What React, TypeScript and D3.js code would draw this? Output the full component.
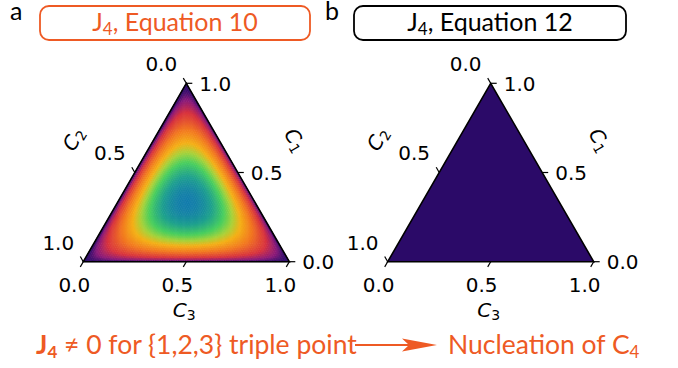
import React from "react";
import * as d3 from "d3";

const ticks = [0, 0.5, 1.0];
const tickLabels = ["0.0", "0.5", "1.0"];
const panelTitles = ["Equation 10", "Equation 12"];
const panelLetters = ["a", "b"];
const cmapStops = [0, 0.05, 0.15, 0.33, 0.5, 0.62, 0.74, 0.88, 1];
const cmapColors = ["#2a0b6a", "#8a1a7a", "#d8323e", "#f27620", "#f5b016", "#a8d23a", "#48cf5e", "#1ea08e", "#137cac"];
const uniformFill = "#2b0a68";
const ORANGE = "#ee5a24";

const W = 678, H = 368;
const SIDE = 206;
const TH = SIDE * Math.sqrt(3) / 2;
const panelX = [83.3, 387.7];
const BASE_Y = 261.7;
const N = 90;

const color = d3.scaleLinear<string>().domain(cmapStops).range(cmapColors).interpolate(d3.interpolateRgb).clamp(true);

function Panel({ idx }: { idx: number }) {
  const x0 = panelX[idx];
  const BL: [number, number] = [x0, BASE_Y];
  const BR: [number, number] = [x0 + SIDE, BASE_Y];
  const AP: [number, number] = [x0 + SIDE / 2, BASE_Y - TH];
  // c1 -> apex, c2 -> bottom-left, c3 -> bottom-right
  const pt = (c1: number, c2: number, c3: number): [number, number] => [
    c1 * AP[0] + c2 * BL[0] + c3 * BR[0],
    c1 * AP[1] + c2 * BL[1] + c3 * BR[1],
  ];
  const J4 = (c1: number, c2: number, c3: number) => 27 * c1 * c2 * c3;
  const cells: JSX.Element[] = [];
  if (idx === 0) {
    let k = 0;
    const cc = (a: number, b: number) => pt(a / N, b / N, 1 - (a + b) / N);
    for (let i = 0; i < N; i++) {
      for (let j = 0; j < N - i; j++) {
        const tri = [[i, j], [i + 1, j], [i, j + 1]];
        const ci = (i + 1 / 3) / N, cj = (j + 1 / 3) / N;
        const v = J4(ci, cj, 1 - ci - cj);
        const d = "M" + tri.map(([a, b]) => cc(a, b).join(",")).join("L") + "Z";
        const f = color(v);
        cells.push(<path key={k++} d={d} fill={f} stroke={f} strokeWidth={0.6} />);
        if (j < N - i - 1) {
          const tri2 = [[i + 1, j], [i + 1, j + 1], [i, j + 1]];
          const ci2 = (i + 2 / 3) / N, cj2 = (j + 2 / 3) / N;
          const v2 = J4(ci2, cj2, 1 - ci2 - cj2);
          const d2 = "M" + tri2.map(([a, b]) => cc(a, b).join(",")).join("L") + "Z";
          const f2 = color(v2);
          cells.push(<path key={k++} d={d2} fill={f2} stroke={f2} strokeWidth={0.6} />);
        }
      }
    }
  }
  const outline = `M${AP[0]},${AP[1]}L${BL[0]},${BL[1]}L${BR[0]},${BR[1]}Z`;
  const TL = 6;
  const s3 = Math.sqrt(3) / 2;
  const tickEls: JSX.Element[] = [];
  ticks.forEach((t, i) => {
    const pb = pt(0, 1 - t, t);
    tickEls.push(<line key={"b" + i} x1={pb[0]} y1={pb[1]} x2={pb[0] - 0.5 * TL} y2={pb[1] + s3 * TL} stroke="#000" strokeWidth={1.2} />);
    tickEls.push(<text key={"bl" + i} x={pb[0] - 9} y={pb[1] + 30} textAnchor="middle">{tickLabels[i]}</text>);
    const pr = pt(t, 0, 1 - t);
    tickEls.push(<line key={"r" + i} x1={pr[0]} y1={pr[1]} x2={pr[0] + TL} y2={pr[1]} stroke="#000" strokeWidth={1.2} />);
    tickEls.push(<text key={"rl" + i} x={pr[0] + 13} y={pr[1] + 7.5} textAnchor="start">{tickLabels[i]}</text>);
    const pl = pt(1 - t, t, 0);
    tickEls.push(<line key={"l" + i} x1={pl[0]} y1={pl[1]} x2={pl[0] - 0.5 * TL} y2={pl[1] - s3 * TL} stroke="#000" strokeWidth={1.2} />);
    tickEls.push(<text key={"ll" + i} x={pl[0] - 25} y={pl[1] - 12} textAnchor="middle">{tickLabels[i]}</text>);
  });
  const c3p: [number, number] = [x0 + SIDE / 2 - 2, 317];
  const c1p: [number, number] = [x0 + 212, 140];
  const c2p: [number, number] = [x0 - 10, 139];
  return (
    <g>
      {idx === 0 ? <g>{cells}</g> : <path d={outline} fill={uniformFill} />}
      <path d={outline} fill="none" stroke="#000" strokeWidth={1.6} strokeLinejoin="miter" />
      <g fontFamily="'DejaVu Sans'" fontSize={20} fill="#000">{tickEls}</g>
      <g fontFamily="'DejaVu Sans'" fontSize={20} fill="#000">
        <text x={c3p[0]} y={c3p[1]} textAnchor="middle">
          <tspan fontStyle="italic">C</tspan><tspan fontSize={14} dy={3}>3</tspan>
        </text>
        <text transform={`translate(${c1p[0]},${c1p[1]}) rotate(60)`} textAnchor="middle" dy={7}>
          <tspan fontStyle="italic">C</tspan><tspan fontSize={14} dy={3}>1</tspan>
        </text>
        <text transform={`translate(${c2p[0]},${c2p[1]}) rotate(-60)`} textAnchor="middle" dy={7}>
          <tspan fontStyle="italic">C</tspan><tspan fontSize={14} dy={3}>2</tspan>
        </text>
      </g>
    </g>
  );
}

export default function App() {
  const boxes = [
    { x: 40, w: 270, stroke: ORANGE, textFill: ORANGE },
    { x: 354, w: 272, stroke: "#000", textFill: "#000" },
  ];
  return (
    <svg width={W} height={H} style={{ position: "absolute", left: 0, top: 0 }} xmlns="http://www.w3.org/2000/svg">
      <rect width={W} height={H} fill="#fff" />
      <g fontFamily="Lato" fontSize={25} fill="#000">
        <text x={10} y={20}>{panelLetters[0]}</text>
        <text x={325} y={20}>{panelLetters[1]}</text>
      </g>
      {boxes.map((b, i) => (
        <g key={i}>
          <rect x={b.x} y={6} width={b.w} height={34} rx={9} fill="#fff" stroke={b.stroke} strokeWidth={1.8} />
          <text x={b.x + b.w / 2} y={31} textAnchor="middle" fontFamily="Lato" fontSize={25} fill={b.textFill}>
            J<tspan fontSize={17} dy={4}>4</tspan><tspan dy={-4}>, {panelTitles[i]}</tspan>
          </text>
        </g>
      ))}
      <Panel idx={0} />
      <Panel idx={1} />
      <g fontFamily="Lato" fontSize={26.5} fill={ORANGE}>
        <text x={36} y={354}>
          <tspan fontWeight="bold">J</tspan><tspan fontWeight="bold" fontSize={17} dy={4}>4</tspan><tspan dy={-4}> ≠ 0 for {"{1,2,3}"} triple point</tspan>
        </text>
        <text x={448} y={354}>
          Nucleation of C<tspan fontSize={17} dy={4}>4</tspan>
        </text>
      </g>
      <line x1={355} y1={345} x2={410} y2={345} stroke={ORANGE} strokeWidth={2} />
      <path d="M402,338.5L437,345L402,351.5L409,345Z" fill={ORANGE} />
    </svg>
  );
}
